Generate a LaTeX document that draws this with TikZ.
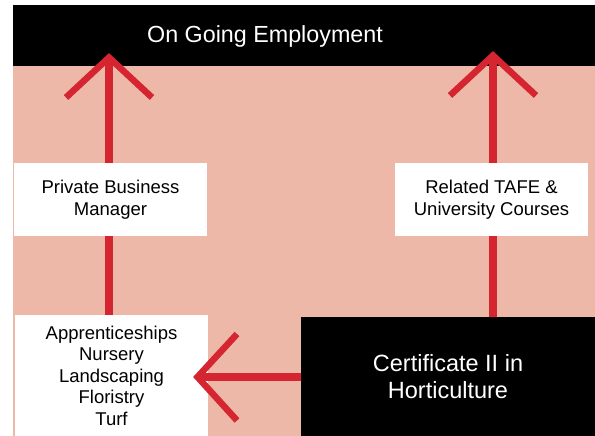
\documentclass[tikz,border=0pt]{standalone}
\usepackage{fontspec}
\setmainfont{Liberation Sans}
\definecolor{pinkbg}{HTML}{EEB8A8}
\definecolor{arrowred}{HTML}{D42530}
\begin{document}
\begin{tikzpicture}[x=1pt,y=-1pt,
  whitebox/.style={fill=white, draw=none, inner sep=0pt, align=center, text=black,
    font=\fontsize{18.5}{21.5}\selectfont},
  blackbox/.style={fill=black, draw=none, inner sep=0pt, align=center, text=white,
    font=\fontsize{23.5}{27}\selectfont},
  shaft/.style={draw=arrowred, line width=7.5pt},
  head/.style={draw=arrowred, line width=6.5pt, line join=miter, miter limit=10}]
\useasboundingbox (0,0) rectangle (595,436);
\fill[pinkbg] (13,66) rectangle (595,436);
\node[blackbox, minimum width=582pt, minimum height=61pt, anchor=north west] (bar) at (13,5) {};
\node[whitebox, minimum width=193pt, minimum height=73pt] (pbm) at (110.5,199.5) {Private Business\\Manager};
\node[whitebox, minimum width=193pt, minimum height=73pt] (tafe) at (491.5,199.5) {Related TAFE \&\\University Courses};
\node[whitebox, minimum width=193pt, minimum height=121pt] (app) at (111.5,375.5) {Apprenticeships\\Nursery\\Landscaping\\Floristry\\Turf};
\node[blackbox, minimum width=294pt, minimum height=119pt] (cert) at (448,376.5) {Certificate II in\\Horticulture};
% arrow geometry
\coordinate (apexL) at (109,57.5);
\coordinate (armL1) at (66,97.5);
\coordinate (armL2) at (152,97.5);
\coordinate (apexR) at (493,55.5);
\coordinate (armR1) at (450,95.5);
\coordinate (armR2) at (536,95.5);
\coordinate (apexH) at (197.5,377);
\coordinate (armH1) at (237,334);
\coordinate (armH2) at (237,420.5);
% left upward arrow
\draw[shaft] (app.north -| apexL) -- (pbm.south -| apexL);
\draw[shaft] (pbm.north -| apexL) -- (apexL);
\draw[head] (armL1) -- (apexL) -- (armL2);
% right upward arrow
\draw[shaft] (cert.north -| apexR) -- (tafe.south -| apexR);
\draw[shaft] (tafe.north -| apexR) -- (apexR);
\draw[head] (armR1) -- (apexR) -- (armR2);
% horizontal arrow
\draw[shaft] (cert.west |- apexH) -- (apexH);
\draw[head] (armH1) -- (apexH) -- (armH2);
% title
\node[text=white, font=\fontsize{23.3}{27}\selectfont, inner sep=0pt] (title) at (265,36) {On Going Employment};
\end{tikzpicture}
\end{document}
